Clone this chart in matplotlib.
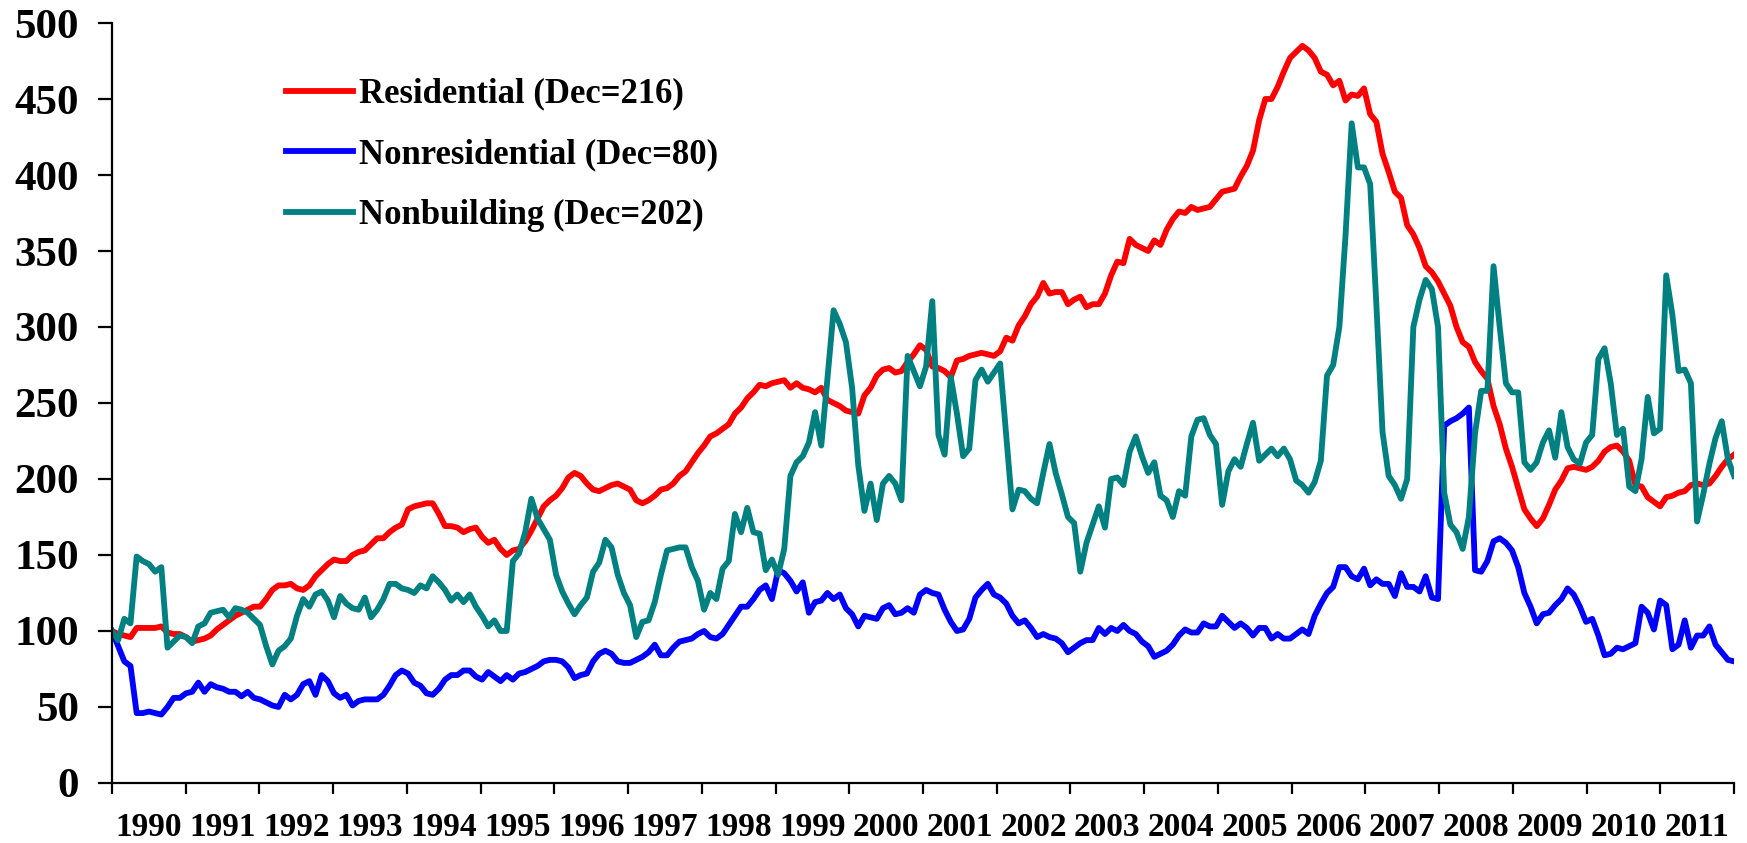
import numpy as np
import matplotlib
matplotlib.use('Agg')
import matplotlib.pyplot as plt

plt.rcParams['font.family'] = 'Liberation Serif'
plt.rcParams['font.weight'] = 'bold'

# monthly index values, Jan 1990 = 100, one row per year (1990 .. 2011)
years = [str(y) for y in range(1990, 2012)]

residential = [
    100, 98, 97, 96, 102, 102, 102, 102, 103, 99, 98, 98,
    96, 93, 94, 95, 97, 101, 104, 107, 110, 112, 114, 116,
    116, 121, 127, 130, 130, 131, 128, 127, 130, 136, 140, 144,
    147, 146, 146, 150, 152, 153, 157, 161, 161, 165, 168, 170,
    180, 182, 183, 184, 184, 177, 169, 169, 168, 165, 167, 168,
    162, 158, 160, 154, 150, 153, 154, 159, 166, 174, 182, 186,
    189, 194, 201, 204, 202, 197, 193, 192, 194, 196, 197, 195,
    193, 186, 184, 186, 189, 193, 194, 197, 202, 205, 211, 217,
    222, 228, 230, 233, 236, 243, 247, 253, 257, 262, 261, 263,
    264, 265, 260, 263, 260, 259, 257, 260, 252, 250, 248, 245,
    244, 243, 255, 260, 268, 272, 273, 270, 271, 277, 282, 288,
    285, 274, 273, 271, 267, 278, 279, 281, 282, 283, 282, 281,
    284, 293, 291, 301, 307, 315, 320, 329, 322, 323, 323, 315,
    318, 320, 313, 315, 315, 322, 334, 343, 342, 358, 354, 352,
    350, 357, 354, 364, 371, 376, 375, 379, 377, 378, 379, 384,
    389, 390, 391, 399, 406, 416, 436, 450, 450, 458, 468, 477,
    481, 485, 482, 477, 468, 466, 459, 462, 449, 453, 452, 457,
    440, 435, 414, 402, 389, 385, 367, 361, 352, 340, 336, 330,
    322, 314, 300, 290, 287, 277, 271, 266, 248, 236, 220, 208,
    194, 180, 174, 169, 174, 183, 193, 199, 207, 208, 207, 206,
    208, 212, 218, 221, 222, 218, 212, 196, 195, 188, 185, 182,
    188, 189, 191, 192, 196, 197, 196, 197, 202, 208, 213, 216,
]

nonresidential = [
    100, 90, 80, 77, 46, 46, 47, 46, 45, 50, 56, 56,
    59, 60, 66, 60, 65, 63, 62, 60, 60, 57, 60, 56,
    55, 53, 51, 50, 58, 55, 58, 65, 67, 58, 71, 67,
    59, 56, 58, 51, 54, 55, 55, 55, 58, 64, 71, 74,
    72, 66, 64, 59, 58, 62, 68, 71, 71, 74, 74, 70,
    68, 73, 70, 67, 71, 68, 72, 73, 75, 77, 80, 81,
    81, 80, 76, 69, 71, 72, 80, 85, 87, 85, 80, 79,
    79, 81, 83, 86, 91, 84, 84, 89, 93, 94, 95, 98,
    100, 96, 95, 98, 104, 110, 116, 116, 121, 127, 130, 121,
    140, 138, 133, 126, 132, 112, 119, 120, 125, 121, 124, 115,
    111, 103, 110, 109, 108, 115, 117, 111, 112, 115, 112, 124,
    127, 125, 124, 114, 106, 100, 101, 108, 122, 127, 131, 124,
    122, 118, 110, 105, 107, 102, 96, 98, 96, 95, 92, 86,
    89, 92, 94, 94, 102, 98, 102, 100, 104, 100, 98, 93,
    90, 83, 85, 87, 91, 97, 101, 99, 99, 105, 103, 103,
    110, 106, 102, 105, 102, 97, 102, 102, 95, 98, 95, 95,
    98, 101, 98, 110, 118, 125, 129, 142, 142, 136, 134, 141,
    130, 134, 131, 131, 123, 138, 129, 129, 126, 136, 122, 121,
    235, 238, 240, 243, 247, 140, 139, 146, 159, 161, 158, 153,
    142, 125, 116, 105, 111, 112, 117, 121, 128, 124, 116, 106,
    108, 97, 84, 85, 89, 88, 90, 92, 116, 112, 101, 120,
    117, 88, 91, 107, 89, 97, 97, 103, 91, 86, 81, 80,
]

nonbuilding = [
    100, 94, 108, 105, 149, 146, 144, 139, 142, 89, 93, 97,
    96, 92, 103, 105, 112, 113, 114, 109, 115, 114, 112, 108,
    104, 90, 78, 87, 90, 95, 110, 121, 116, 124, 126, 120,
    109, 123, 118, 115, 114, 122, 109, 114, 121, 131, 131, 128,
    127, 125, 130, 128, 136, 132, 127, 120, 124, 119, 124, 116,
    110, 103, 107, 100, 100, 146, 151, 165, 187, 174, 167, 160,
    137, 126, 118, 111, 117, 122, 139, 145, 160, 155, 137, 125,
    117, 96, 106, 107, 119, 137, 153, 154, 155, 155, 142, 133,
    114, 125, 121, 141, 146, 177, 165, 181, 165, 164, 140, 147,
    137, 154, 202, 211, 215, 224, 244, 222, 266, 311, 302, 290,
    260, 209, 179, 197, 173, 197, 202, 197, 186, 281, 271, 261,
    274, 317, 229, 216, 267, 243, 215, 220, 265, 272, 264, 270,
    276, 228, 180, 193, 192, 187, 184, 204, 223, 204, 190, 175,
    171, 139, 158, 170, 182, 168, 200, 201, 196, 218, 228, 215,
    204, 211, 189, 186, 175, 192, 189, 228, 239, 240, 229, 223,
    183, 205, 213, 208, 223, 237, 212, 216, 220, 215, 220, 213,
    199, 196, 191, 198, 212, 268, 275, 300, 360, 434, 405, 405,
    394, 315, 231, 202, 196, 187, 200, 300, 318, 331, 325, 300,
    191, 170, 165, 154, 175, 230, 258, 258, 340, 300, 263, 257,
    257, 211, 206, 211, 224, 232, 214, 244, 221, 213, 210, 224,
    229, 279, 286, 263, 229, 233, 195, 192, 213, 254, 230, 233,
    334, 308, 271, 272, 263, 172, 190, 210, 227, 238, 213, 202,
]

labels = ['Residential (Dec=216)', 'Nonresidential (Dec=80)', 'Nonbuilding (Dec=202)']
colors = ['#FF0000', '#0000FF', '#008080']

fig = plt.figure(figsize=(17.47, 8.43), dpi=100)
ax = fig.add_axes([0.0641, 0.0712, 0.9285, 0.9015])

x = np.arange(len(residential))
for series, lab, col in zip([residential, nonresidential, nonbuilding], labels, colors):
    ax.plot(x, series, color=col, lw=4.2, label=lab)

ax.set_xlim(0, len(x) - 1)
ax.set_ylim(0, 500)
for s in ['top', 'right']:
    ax.spines[s].set_visible(False)
for s in ['left', 'bottom']:
    ax.spines[s].set_linewidth(1.6)

ax.set_yticks(range(0, 501, 50))
ax.tick_params(axis='y', direction='out', length=10, width=1.6, pad=14, labelsize=31)

edges = np.linspace(0, len(x) - 1, len(years) + 1)
ax.set_xticks(edges)
ax.set_xticklabels([])
ax.set_xticks((edges[:-1] + edges[1:]) / 2, minor=True)
ax.set_xticklabels(years, minor=True)
ax.tick_params(axis='x', which='major', direction='out', length=8, width=1.6)
ax.tick_params(axis='x', which='minor', length=0, pad=21, labelsize=24)

ax.legend(loc='upper left', bbox_to_anchor=(0.1075, 0.928), frameon=False,
          fontsize=25, handlelength=1.93, handletextpad=0.17, labelspacing=0.8,
          borderaxespad=0, borderpad=0)

fig.savefig('out.png', dpi=100)
